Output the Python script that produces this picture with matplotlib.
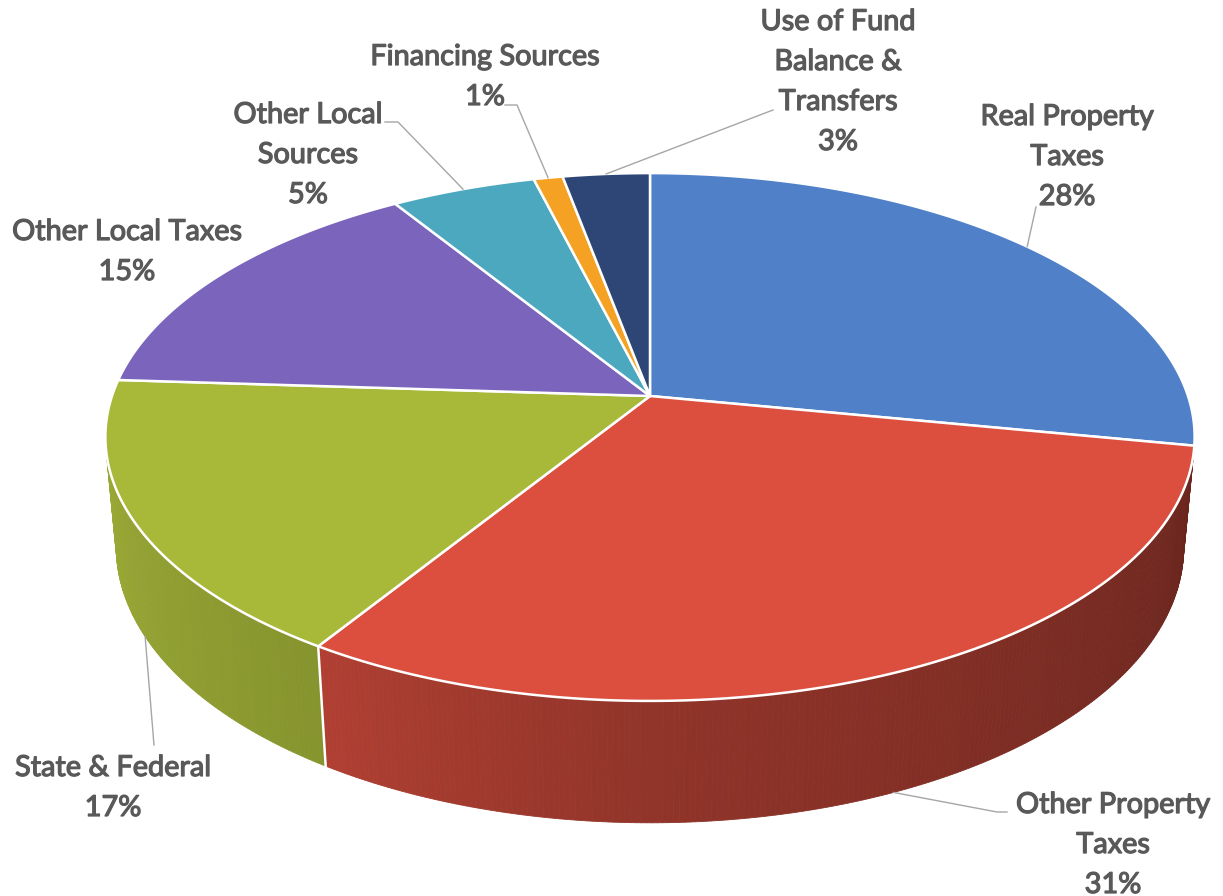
import numpy as np
import matplotlib
matplotlib.use("Agg")
import matplotlib.pyplot as plt
import matplotlib.patheffects as pe
from matplotlib.patches import Polygon
from matplotlib.colors import to_rgb

# ---- data -------------------------------------------------------------
categories = [
    "Real Property Taxes",
    "Other Property Taxes",
    "State & Federal",
    "Other Local Taxes",
    "Other Local Sources",
    "Financing Sources",
    "Use of Fund Balance & Transfers",
]
shares = [28, 31, 17, 15, 5, 1, 3]
label_lines = [
    ["Real Property", "Taxes"],
    ["Other Property", "Taxes"],
    ["State & Federal"],
    ["Other Local Taxes"],
    ["Other Local", "Sources"],
    ["Financing Sources"],
    ["Use of Fund", "Balance &", "Transfers"],
]
colors = ["#4F80C8", "#DC4F3F", "#A8B93A", "#7A64BC", "#4CA8BF", "#F5A124", "#2E4676"]

# ---- layout -----------------------------------------------------------
W, H_PX = 1223, 896
label_pos = [(1067, 117), (1113, 805), (113, 768), (127, 232),
             (308, 115), (485, 57), (838, 22)]
leader_pts = [
    [(1036, 207)],
    [(1007, 812), (997, 812)],
    [(154, 745)],
    None,
    [(385, 122), (398, 122)],
    [(505, 105), (517, 105)],
    [(773, 110)],
]
LINE_STEP = 40
TEXT_COLOR = "#595959"
FONT = ["Lato", "DejaVu Sans"]

# ---- perspective camera for a unit-radius disc ------------------------
PHI = np.radians(28.6)
DIST = 5.65
SCALE = 538.0
CX, CY = 650.0, 396.0
THICK = 0.236
sp, cp = np.sin(PHI), np.cos(PHI)


def project(wx, wy, wz):
    d = DIST + wy * cp - wz * sp
    u = wx * DIST / d
    v = (wy * sp + wz * cp) * DIST / d
    return CX + SCALE * u, CY - SCALE * v


def rim(theta_deg, z):
    t = np.radians(theta_deg)
    return project(np.sin(t), np.cos(t), z)


# visible part of the cylinder wall (clockwise angle from the far point)
k = 1.0 / (DIST * cp)
vis_lo = np.degrees(np.arccos(-k))
vis_hi = 360.0 - vis_lo

fig = plt.figure(figsize=(W / 100, H_PX / 100), dpi=100)
ax = fig.add_axes([0, 0, 1, 1])
ax.set_xlim(0, W)
ax.set_ylim(H_PX, 0)
ax.axis("off")

total = float(sum(shares))
bounds = np.concatenate([[0], np.cumsum(shares)]) / total * 360.0


def wall_shade(theta):
    # light falls from the front-left, so the wall darkens to the right
    return np.interp(theta, [100.0, 180.0, 212.0, 260.0], [0.47, 0.66, 0.80, 0.92])


# side walls
for i, col in enumerate(colors):
    a1, a2 = bounds[i], bounds[i + 1]
    lo, hi = max(a1, vis_lo), min(a2, vis_hi)
    if hi <= lo:
        continue
    base = np.array(to_rgb(col))
    n = max(2, int((hi - lo) / 0.5))
    ts = np.linspace(lo, hi, n + 1)
    for t0, t1 in zip(ts[:-1], ts[1:]):
        pts = [rim(t0, 0), rim(t1, 0), rim(t1, -THICK), rim(t0, -THICK)]
        c = np.clip(base * wall_shade(0.5 * (t0 + t1)), 0, 1)
        ax.add_patch(Polygon(pts, closed=True, facecolor=c, edgecolor=c,
                             lw=0.6, zorder=1))

# white seams on the wall where slices meet
for b in bounds[1:-1]:
    if vis_lo < b < vis_hi:
        x0, y0 = rim(b, 0)
        x1, y1 = rim(b, -THICK)
        ax.plot([x0, x1], [y0, y1], color="white", lw=1.8, zorder=2)

# top surface
for i, col in enumerate(colors):
    a1, a2 = bounds[i], bounds[i + 1]
    ts = np.linspace(a1, a2, max(3, int((a2 - a1) / 0.5)))
    pts = [(CX, CY)] + [rim(t, 0) for t in ts]
    ax.add_patch(Polygon(pts, closed=True, facecolor=col, edgecolor="white",
                         lw=1.8, joinstyle="round", zorder=3))

# leader lines
for i, pts in enumerate(leader_pts):
    if pts is None:
        continue
    mid = 0.5 * (bounds[i] + bounds[i + 1])
    if vis_lo < mid < vis_hi:
        anchor = rim(mid, -THICK)
    else:
        anchor = rim(mid, 0)
    xs = [p[0] for p in pts] + [anchor[0]]
    ys = [p[1] for p in pts] + [anchor[1]]
    ax.plot(xs, ys, color="#A6A6A6", lw=1.0, zorder=4)

# data labels (a thin same-colour stroke gives a medium weight)
heavier = [pe.withStroke(linewidth=0.9, foreground=TEXT_COLOR)]
for i, lines in enumerate(label_lines):
    x, y = label_pos[i]
    rows = lines + [f"{shares[i]}%"]
    for j, row in enumerate(rows):
        ax.text(x, y + j * LINE_STEP, row, ha="center", va="center",
                fontsize=20.8, color=TEXT_COLOR, family=FONT,
                path_effects=heavier, zorder=5)

fig.savefig("out.png", dpi=100, facecolor="white")
